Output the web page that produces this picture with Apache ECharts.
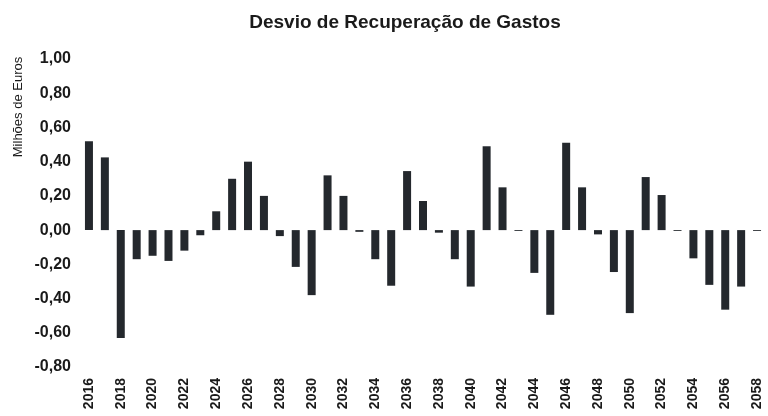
<!DOCTYPE html>
<html><head><meta charset="utf-8">
<script src="https://cdn.jsdelivr.net/npm/echarts@6/dist/echarts.min.js"></script>
<style>html,body{margin:0;padding:0;background:#fff}#c{width:768px;height:416px}</style>
</head><body><div id="c"></div>
<script>
const years = [];
for (let y = 2016; y <= 2058; y++) years.push(String(y));
const desvio = [0.52, 0.425, -0.63, -0.17, -0.15, -0.18, -0.12, -0.03, 0.11, 0.30, 0.40, 0.20, -0.035, -0.215, -0.38,
  0.32, 0.20, -0.01, -0.17, -0.325, 0.345, 0.17, -0.015, -0.17, -0.33, 0.49, 0.25, -0.005, -0.25, -0.495,
  0.51, 0.25, -0.025, -0.245, -0.485, 0.31, 0.205, -0.005, -0.165, -0.32, -0.465, -0.33, -0.005];
const titleText = 'Desvio de Recuperação de Gastos';
const yName = 'Milhões de Euros';

const chart = echarts.init(document.getElementById('c'));
const font = '"Liberation Sans", Arial, sans-serif';
chart.setOption({
  animation: false,
  title: { text: titleText, left: 400, top: 8, textAlign: 'center',
    textStyle: { fontFamily: font, fontSize: 19, fontWeight: 'bold', color: '#1a1a1a' } },
  graphic: [{ type: 'text', x: 18.5, y: 107, rotation: Math.PI / 2,
    style: { text: yName, fontFamily: font, fontSize: 13, fill: '#1a1a1a', align: 'center', verticalAlign: 'middle' } }],
  grid: { left: 81, right: 3, top: 59, bottom: 49 },
  xAxis: { type: 'category', data: years,
    axisLine: { show: false }, axisTick: { show: false },
    axisLabel: { interval: 1, rotate: 90, margin: 11, fontFamily: font, fontSize: 14, fontWeight: 'bold', color: '#1a1a1a' } },
  yAxis: { type: 'value', min: -0.8, max: 1.0, interval: 0.2,
    axisLine: { show: false }, axisTick: { show: false }, splitLine: { show: false },
    axisLabel: { margin: 10, fontFamily: font, fontSize: 16, fontWeight: 'bold', color: '#1a1a1a',
      formatter: v => v.toFixed(2).replace('.', ',') } },
  series: [{ type: 'bar', data: desvio, barWidth: 8, itemStyle: { color: '#24282d' } }]
});
</script></body></html>
